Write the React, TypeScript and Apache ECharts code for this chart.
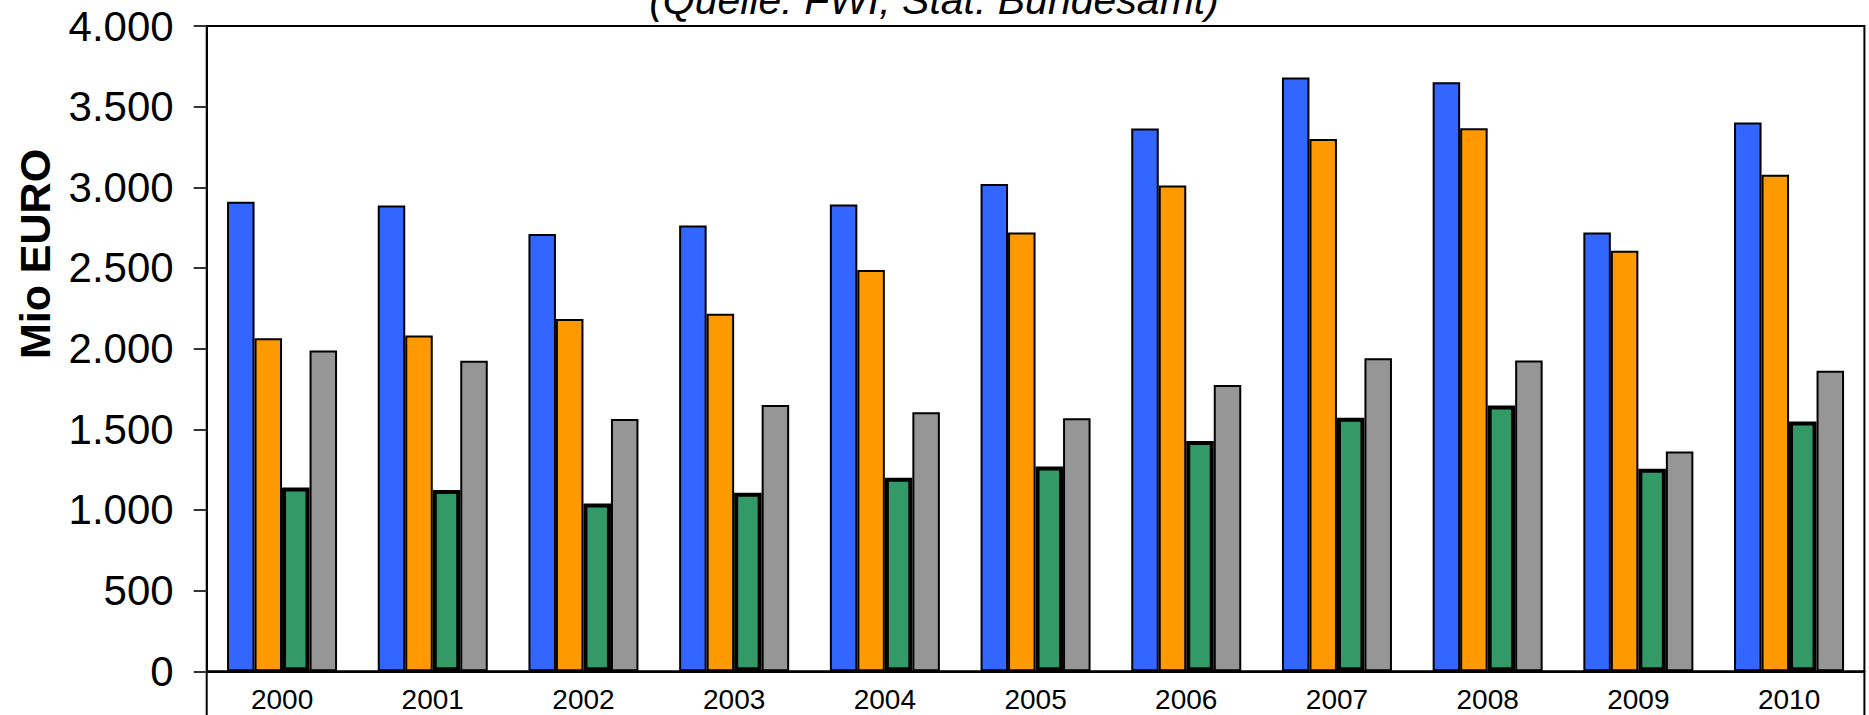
import React, { useEffect, useRef } from "react";
import * as echarts from "echarts";

const categories = ["2000", "2001", "2002", "2003", "2004", "2005", "2006", "2007", "2008", "2009", "2010"];
const seriesBlue = [2910, 2888, 2710, 2764, 2894, 3020, 3365, 3680, 3652, 2720, 3402];
const seriesOrange = [2064, 2082, 2184, 2217, 2487, 2720, 3012, 3300, 3366, 2607, 3078];
const seriesGreen = [1140, 1124, 1040, 1107, 1200, 1270, 1427, 1572, 1648, 1256, 1548];
const seriesGray = [1989, 1925, 1564, 1650, 1605, 1568, 1774, 1940, 1927, 1363, 1863];
const titleText = "(Quelle: FWI, Stat. Bundesamt)";
const yAxisTitle = "Mio EURO";

const FONT = "'Liberation Sans', Arial, sans-serif";

function fmt(v: number): string {
  const s = String(Math.round(v));
  return s.replace(/\B(?=(\d{3})+(?!\d))/g, ".");
}

export default function App() {
  const ref = useRef<HTMLDivElement>(null);
  useEffect(() => {
    if (!ref.current) return;
    const chart = echarts.init(ref.current, null, { renderer: "svg" });
    const H = 715;
    const gLeft = 206.7;
    const gRight = 1864.4;
    const gTop = 26;
    const gBottom = 671.3;
    const mkBar = (name: string, data: number[], color: string, bw: number) => ({
      name,
      type: "bar",
      data,
      barGap: "0%",
      barCategoryGap: "27%",
      itemStyle: { color, borderColor: "#000", borderWidth: bw },
    });
    chart.setOption({
      animation: false,
      backgroundColor: "#fff",
      textStyle: { fontFamily: FONT },
      grid: {
        left: gLeft,
        top: gTop,
        width: gRight - gLeft,
        height: gBottom - gTop,
        show: true,
        borderColor: "#000",
        borderWidth: 2,
        containLabel: false,
      },
      xAxis: {
        type: "category",
        data: categories,
        axisLine: { show: true, lineStyle: { color: "#000", width: 2 } },
        axisTick: { show: false },
        axisLabel: { color: "#000", fontSize: 28, fontFamily: FONT, margin: 14 },
        splitLine: { show: false },
      },
      yAxis: {
        type: "value",
        min: 0,
        max: 4000,
        interval: 500,
        axisLine: { show: true, lineStyle: { color: "#000", width: 2 } },
        axisTick: { show: true, length: 13, lineStyle: { color: "#333", width: 2 } },
        axisLabel: {
          color: "#000",
          fontSize: 42,
          fontFamily: FONT,
          margin: 33,
          formatter: (v: number) => fmt(v),
        },
        splitLine: { show: false },
      },
      graphic: [
        {
          type: "text",
          x: 934,
          y: 0,
          style: {
            text: titleText,
            fontSize: 41,
            fontStyle: "italic",
            fontFamily: FONT,
            fill: "#000",
            align: "center",
            verticalAlign: "middle",
          },
        },
        {
          type: "text",
          x: 35,
          y: 254,
          rotation: Math.PI / 2,
          style: {
            text: yAxisTitle,
            fontSize: 43,
            fontWeight: "bold",
            fontFamily: FONT,
            fill: "#000",
            align: "center",
            verticalAlign: "middle",
          },
        },
        {
          type: "line",
          shape: { x1: gLeft, y1: gBottom, x2: gLeft, y2: H },
          style: { stroke: "#000", lineWidth: 2 },
        },
        {
          type: "line",
          shape: { x1: gRight, y1: gBottom, x2: gRight, y2: H },
          style: { stroke: "#000", lineWidth: 2 },
        },
      ],
      series: [
        mkBar("Reihe 1", seriesBlue, "#3366FF", 2),
        mkBar("Reihe 2", seriesOrange, "#FF9900", 2),
        mkBar("Reihe 3", seriesGreen, "#339966", 4),
        mkBar("Reihe 4", seriesGray, "#969696", 2),
      ],
    });
    return () => chart.dispose();
  }, []);
  return (
    <div
      ref={ref}
      style={{ position: "fixed", left: 0, top: 0, width: 1869, height: 715, background: "#fff" }}
    />
  );
}
